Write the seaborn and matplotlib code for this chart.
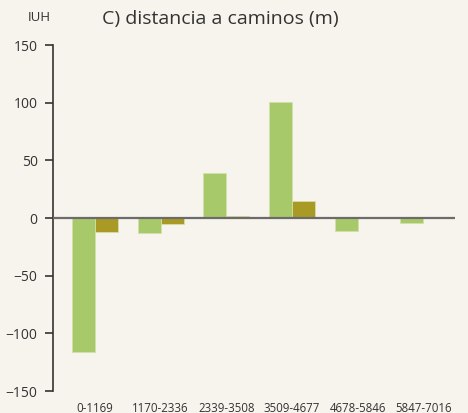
import pandas as pd
import matplotlib.pyplot as plt
import seaborn as sns

categorias = ["0-1169", "1170-2336", "2339-3508", "3509-4677", "4678-5846", "5847-7016"]
serie_a = [-116, -13, 39, 101, -11, -4]
serie_b = [-12, -5.5, 2, 15, 0, 0]

df = pd.DataFrame({
    "rango": categorias * 2,
    "iuh": serie_a + serie_b,
    "serie": ["A"] * len(categorias) + ["B"] * len(categorias),
})

bg = "#f7f3ed"
sns.set_style("white")
plt.rcParams["font.family"] = ["Open Sans", "DejaVu Sans"]

fig = plt.figure(figsize=(4.68, 4.13), dpi=100, facecolor=bg)
ax = fig.add_axes([0.113, 0.053, 0.859, 0.838], facecolor=bg)

sns.barplot(data=df, x="rango", y="iuh", hue="serie", order=categorias,
            palette=["#a8c96a", "#a89a24"], saturation=1, width=0.7, ax=ax,
            edgecolor="#d2e0a8", linewidth=0.6, legend=False)

ax.axhline(0, color="#6b6b6b", lw=1.6, zorder=5)

ax.set_ylim(-150, 150)
ax.set_yticks([-150, -100, -50, 0, 50, 100, 150])
ax.set_xlim(-0.64, 5.48)
ax.set_xlabel("")
ax.set_ylabel("")

for s in ["top", "right", "bottom"]:
    ax.spines[s].set_visible(False)
ax.spines["left"].set_color("#333333")
ax.spines["left"].set_linewidth(1.2)

ax.tick_params(axis="y", left=True, length=6, width=1.2, color="#333333",
               labelsize=10, labelcolor="#333333", pad=5)
ax.tick_params(axis="x", bottom=False, labelsize=8.3, labelcolor="#333333", pad=4)

fig.text(0.06, 0.957, "IUH", fontsize=9.5, color="#333333", va="center")
fig.text(0.218, 0.955, "C) distancia a caminos (m)", fontsize=14, color="#333333", va="center")

fig.savefig("out.png", dpi=100, facecolor=bg)
